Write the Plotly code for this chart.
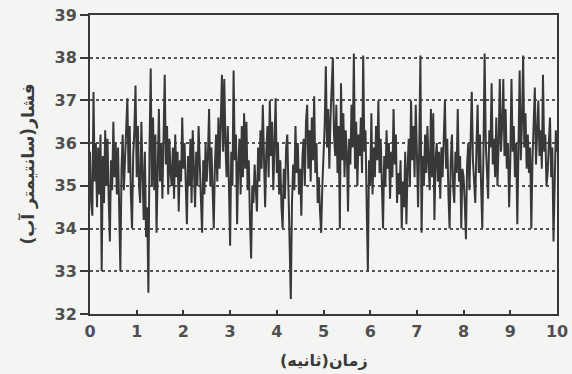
import plotly.graph_objects as go

dt = 0.025
s0 = [35.8, 34.6, 34.3, 37.2, 35.1, 36.0, 34.5, 35.9, 34.8, 36.2, 33.0, 35.7, 34.6, 36.3, 35.0, 36.1, 34.7, 33.7, 35.6, 34.9, 36.5, 35.2, 36.0, 34.8, 35.9, 34.6, 33.0, 35.4, 36.2, 34.9, 35.8, 36.6, 37.05, 35.3, 36.4, 34.8, 34.0, 35.7, 36.3, 37.35]
s1 = [35.2, 36.4, 35.0, 34.6, 36.5, 35.3, 34.2, 35.8, 33.8, 34.5, 32.5, 35.9, 37.75, 35.0, 36.6, 34.9, 36.2, 33.9, 35.4, 36.8, 35.1, 36.0, 34.7, 35.8, 37.6, 35.5, 36.4, 34.8, 36.1, 35.3, 35.0, 35.9, 34.7, 36.2, 35.2, 35.8, 34.4, 35.6, 35.1, 36.6]
s2 = [35.4, 36.0, 34.9, 34.1, 35.7, 35.0, 36.1, 34.6, 36.3, 35.2, 34.5, 35.8, 35.0, 36.4, 35.3, 34.7, 33.9, 35.6, 34.8, 36.0, 35.1, 35.7, 36.8, 35.0, 35.9, 34.6, 34.0, 35.5, 36.2, 35.1, 36.6, 35.4, 36.9, 37.6, 35.8, 37.5, 36.0, 35.2, 36.4, 34.9]
s3 = [33.6, 35.8, 35.0, 37.7, 35.6, 36.2, 34.1, 35.5, 36.1, 34.8, 36.4, 35.2, 36.7, 35.4, 36.5, 34.9, 35.6, 34.2, 33.3, 35.0, 34.6, 35.5, 34.8, 34.4, 35.9, 35.1, 36.3, 35.4, 36.9, 35.6, 34.5, 35.8, 36.4, 35.2, 37.0, 35.7, 36.5, 34.9, 36.2, 37.05]
s4 = [35.3, 36.0, 34.8, 35.6, 34.5, 34.0, 35.4, 34.7, 35.9, 36.2, 34.9, 33.8, 32.35, 34.6, 35.5, 34.9, 36.4, 35.3, 36.0, 34.8, 35.4, 34.3, 35.7, 36.1, 35.0, 36.5, 36.9, 35.4, 36.3, 35.1, 36.6, 35.6, 37.1, 35.3, 36.0, 34.6, 35.2, 34.4, 33.9, 35.0]
s5 = [35.6, 36.4, 37.8, 35.9, 36.8, 35.4, 36.6, 37.3, 38.0, 36.2, 35.7, 36.9, 35.3, 36.4, 34.0, 37.4, 35.6, 36.7, 35.2, 36.3, 35.8, 34.4, 36.1, 35.5, 36.9, 35.9, 38.1, 35.4, 36.5, 35.0, 36.2, 35.7, 36.6, 35.3, 38.05, 35.8, 36.3, 34.5, 33.0, 35.6]
s6 = [35.0, 36.7, 34.8, 35.9, 35.2, 36.4, 35.6, 37.0, 35.3, 36.1, 34.9, 34.0, 35.7, 35.0, 36.3, 35.4, 36.0, 34.7, 35.8, 35.2, 36.8, 35.5, 36.2, 34.6, 35.3, 34.8, 35.6, 34.0, 35.1, 34.5, 35.8, 34.1, 35.4, 36.1, 35.0, 37.0, 35.6, 36.4, 35.2, 36.9]
s7 = [35.8, 34.5, 35.9, 38.05, 33.9, 35.7, 35.0, 36.2, 35.3, 36.4, 35.5, 34.9, 36.8, 35.2, 36.7, 34.2, 35.6, 36.0, 35.1, 35.8, 34.7, 35.9, 35.2, 36.3, 37.0, 35.4, 36.1, 34.8, 34.0, 35.6, 36.2, 35.0, 34.6, 35.8, 35.3, 36.8, 35.1, 35.7, 34.0, 35.4]
s8 = [35.2, 34.6, 33.75, 35.5, 36.0, 34.9, 36.4, 37.2, 35.6, 35.1, 34.6, 35.9, 36.9, 35.3, 36.2, 35.0, 34.0, 35.8, 38.1, 36.0, 35.4, 34.7, 36.3, 35.9, 37.4, 35.5, 36.1, 35.2, 36.6, 35.0, 36.0, 37.5, 35.8, 36.4, 37.5, 35.7, 36.8, 35.4, 36.0, 34.5]
s9 = [35.6, 37.5, 35.8, 36.4, 35.2, 36.0, 34.1, 35.9, 37.7, 35.6, 36.5, 38.05, 35.9, 36.7, 35.4, 36.2, 35.3, 35.9, 34.0, 35.6, 36.4, 37.3, 35.5, 36.1, 37.0, 35.7, 36.3, 35.4, 37.6, 35.8, 36.2, 35.0, 35.3, 36.0, 36.6, 35.2, 35.9, 33.7, 35.4, 36.3, 35.8]

pressure = s0 + s1 + s2 + s3 + s4 + s5 + s6 + s7 + s8 + s9
time = [round(i * dt, 4) for i in range(len(pressure))]

x_ticks = list(range(0, 11))
y_ticks = list(range(32, 40))
x_title = "زمان(ثانیه)"
y_title = "فشار(سانتیمتر آب)"

ink = "#383838"
bg = "#f4f4f2"

fig = go.Figure()
fig.add_trace(go.Scatter(x=time, y=pressure, mode="lines",
                         line=dict(color=ink, width=2), showlegend=False,
                         hoverinfo="skip"))

tick_font = dict(size=16, family="DejaVu Sans", color="#505050", weight="bold")

fig.update_layout(
    width=572, height=374,
    margin=dict(l=90, r=15, t=15, b=60),
    paper_bgcolor=bg, plot_bgcolor=bg,
    font=dict(family="DejaVu Sans", color="#444"),
    annotations=[
        dict(text="<b>" + x_title + "</b>", xref="paper", yref="paper",
             x=0.5, y=0, xanchor="center", yanchor="middle", yshift=-46,
             showarrow=False,
             font=dict(size=16, family="DejaVu Sans", color="#3a3a3a")),
        dict(text="<b>" + y_title + "</b>", xref="paper", yref="paper",
             x=0, xshift=-63, y=0.5, xanchor="center", yanchor="middle",
             textangle=-90, showarrow=False,
             font=dict(size=17, family="DejaVu Sans", color="#3a3a3a")),
    ],
)
fig.update_xaxes(
    range=[0, 10], tickvals=x_ticks, ticks="inside", ticklen=4, tickwidth=1.5,
    tickcolor=ink, showline=True, linecolor=ink, linewidth=2, mirror=True,
    showgrid=False, zeroline=False, automargin=False, tickfont=tick_font,
    ticklabelstandoff=2,
)
fig.update_yaxes(
    range=[32, 39], tickvals=y_ticks, ticks="outside", ticklen=8, tickwidth=1.5,
    tickcolor=ink, showline=True, linecolor=ink, linewidth=2, mirror=True,
    showgrid=True, gridcolor="#555", gridwidth=1.5, griddash="dot",
    zeroline=False, automargin=False, tickfont=tick_font,
)

fig.write_html("out.html", config={"displayModeBar": False},
               post_script="document.body.style.margin='0';")
